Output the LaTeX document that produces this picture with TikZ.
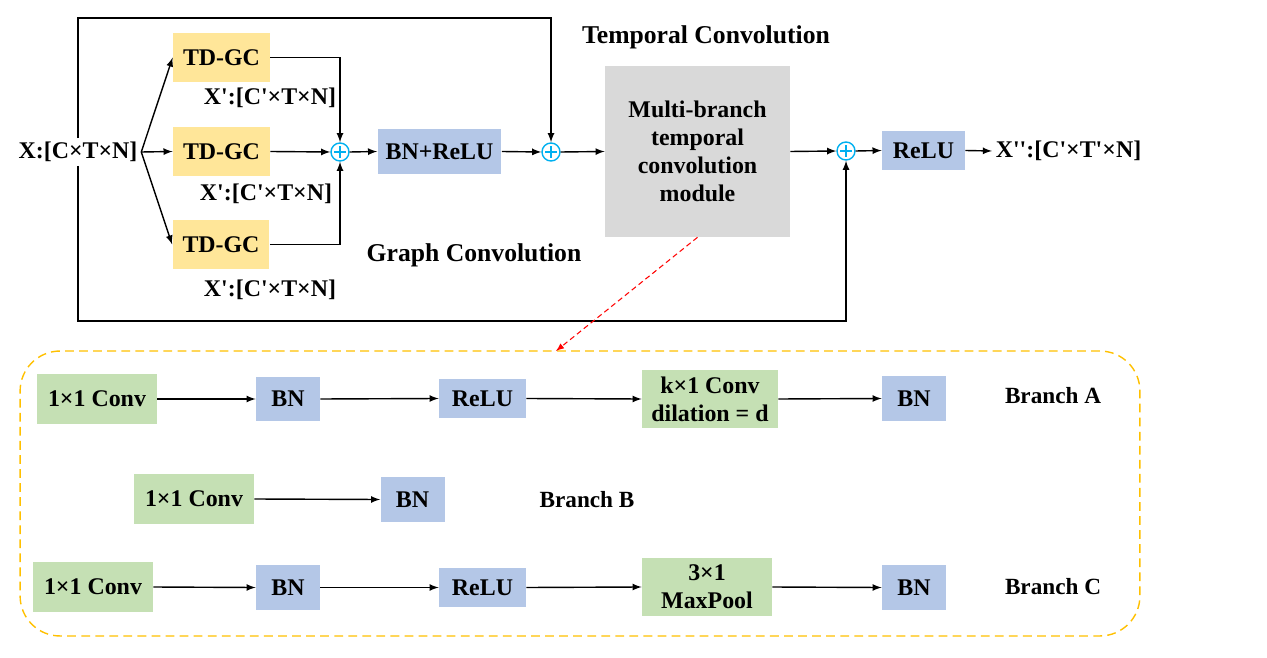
\documentclass[tikz,border=0pt]{standalone}
\usepackage{fontspec}
\setmainfont{Liberation Serif}
\usetikzlibrary{arrows, positioning}

\definecolor{gcyellow}{HTML}{FFE699}
\definecolor{opblue}{HTML}{B4C7E7}
\definecolor{convgreen}{HTML}{C5E0B4}
\definecolor{modgrey}{HTML}{D9D9D9}
\definecolor{addcyan}{HTML}{00B0F0}
\definecolor{zoomorange}{HTML}{FFC000}

\newcommand{\boxfont}{\fontsize{13.6pt}{16pt}\selectfont\bfseries}
\newcommand{\titlefont}{\fontsize{14.6pt}{17pt}\selectfont\bfseries}
\newcommand{\branchfont}{\fontsize{13.2pt}{16pt}\selectfont\bfseries}
\newcommand{\pq}{\textquotesingle}

\tikzstyle{gcblock} = [rectangle, minimum width=1.94cm, minimum height=0.98cm, text centered, fill=gcyellow, font=\boxfont]
\tikzstyle{opblock} = [rectangle, minimum width=1.28cm, minimum height=0.9cm, text centered, fill=opblue, font=\boxfont]
\tikzstyle{convblock} = [rectangle, minimum width=2.4cm, minimum height=1cm, text centered, fill=convgreen, font=\boxfont, align=center]
\tikzstyle{modblock} = [rectangle, minimum width=3.7cm, minimum height=3.42cm, text centered, fill=modgrey, font=\boxfont, align=center]
\tikzstyle{addnode} = [circle, draw=addcyan, thick, fill=white, minimum size=0.36cm, inner sep=0pt,
  path picture={\draw[addcyan, semithick] ([yshift=-0.12cm]path picture bounding box.center) -- ([yshift=0.12cm]path picture bounding box.center);
                \draw[addcyan, semithick] ([xshift=-0.12cm]path picture bounding box.center) -- ([xshift=0.12cm]path picture bounding box.center);}]
\tikzstyle{shapelabel} = [font=\boxfont, inner sep=2pt]
\tikzstyle{arrow} = [thick,->,>=latex]
\tikzstyle{zoomarrow} = [semithick,->,>=latex, red, dash pattern=on 3pt off 2pt]

\begin{document}
\begin{tikzpicture}[x=0.02cm, y=-0.02cm]
\useasboundingbox (0,0) rectangle (1267,658);

% Graph convolution part
\node (xin) [shapelabel, fill=white] at (78,152) {X:[C×T×N]};
\node (gc1) [gcblock] at (221.5,57.5) {TD-GC};
\node (gc2) [gcblock] at (221.5,151.5) {TD-GC};
\node (gc3) [gcblock] at (221,244.5) {TD-GC};
\node (gc1lab) [shapelabel] at (270,98) {X\pq:[C\pq×T×N]};
\node (gc2lab) [shapelabel] at (266,194) {X\pq:[C\pq×T×N]};
\node (gc3lab) [shapelabel] at (270,290) {X\pq:[C\pq×T×N]};
\node (add1) [addnode] at (340,152) {};
\node (bnrelu) [opblock, minimum width=2.48cm] at (439.5,151.5) {BN+ReLU};
\node (gctitle) [font=\titlefont] at (474,255) {Graph Convolution};

% Temporal convolution part
\node (add2) [addnode] at (551,152) {};
\node (tcm) [modblock] at (697.5,151.5) {Multi-branch\\temporal\\convolution\\module};
\node (tctitle) [font=\titlefont] at (706,37) {Temporal Convolution};
\node (add3) [addnode] at (846,151) {};
\node (relu) [opblock, minimum width=1.66cm, minimum height=0.78cm] at (923.5,150.5) {ReLU};
\node (xout) [shapelabel] at (1068.5,151) {X\pq\pq:[C\pq×T\pq×N]};

% Skip corners
\coordinate (skiptop) at (78,18);
\coordinate (skipbot) at (78,321);

% Arrows of the top row
\draw [arrow] (xin.east) -- (gc1.west);
\draw [arrow] (xin.east) -- (gc2.west);
\draw [arrow] (xin.east) -- (gc3.west);
\draw [arrow] (gc1.east) -| (add1.north);
\draw [arrow] (gc2.east) -- (add1.west);
\draw [arrow] (gc3.east) -| (add1.south);
\draw [arrow] (add1.east) -- (bnrelu.west);
\draw [arrow] (bnrelu.east) -- (add2.west);
\draw [arrow] (add2.east) -- (tcm.west);
\draw [arrow] (tcm.east) -- (add3.west);
\draw [arrow] (add3.east) -- (relu.west);
\draw [arrow] (relu.east) -- (xout.west);
\draw [arrow] (xin.north) -- (skiptop) -| (add2.north);
\draw [arrow] (xin.south) -- (skipbot) -| (add3.south);

% Multi-branch module
\node (branches) [rectangle, draw=zoomorange, thick, dash pattern=on 5pt off 3pt, rounded corners=0.8cm, minimum width=22.4cm, minimum height=5.7cm] at (580,493.5) {};
\coordinate (zoomend) at (556,351);
\draw [zoomarrow] (tcm.south) -- (zoomend);

% Branch A
\node (a1) [convblock] at (97,399) {1×1 Conv};
\node (a2) [opblock] at (288,399) {BN};
\node (a3) [opblock, minimum width=1.74cm, minimum height=0.78cm] at (482.5,398.5) {ReLU};
\node (a4) [convblock, minimum width=2.72cm, minimum height=1.16cm] at (710,399) {k×1 Conv\\dilation = d};
\node (a5) [opblock] at (914,398.5) {BN};
\node (alab) [font=\branchfont] at (1053,396) {Branch A};

% Branch B
\node (b1) [convblock] at (194,499) {1×1 Conv};
\node (b2) [opblock] at (412.5,499.5) {BN};
\node (blab) [font=\branchfont] at (587,500) {Branch B};

% Branch C
\node (c1) [convblock] at (93,587) {1×1 Conv};
\node (c2) [opblock] at (288,587.5) {BN};
\node (c3) [opblock, minimum width=1.74cm, minimum height=0.78cm] at (482.5,587.5) {ReLU};
\node (c4) [convblock, minimum width=2.6cm, minimum height=1.16cm] at (707,587) {3×1\\MaxPool};
\node (c5) [opblock] at (914,587.5) {BN};
\node (clab) [font=\branchfont] at (1053,587) {Branch C};

% Arrows within branches
\draw [arrow] (a1.east) -- (a2.west);
\draw [arrow] (a2.east) -- (a3.west);
\draw [arrow] (a3.east) -- (a4.west);
\draw [arrow] (a4.east) -- (a5.west);
\draw [arrow] (b1.east) -- (b2.west);
\draw [arrow] (c1.east) -- (c2.west);
\draw [arrow] (c2.east) -- (c3.west);
\draw [arrow] (c3.east) -- (c4.west);
\draw [arrow] (c4.east) -- (c5.west);

\end{tikzpicture}
\end{document}
